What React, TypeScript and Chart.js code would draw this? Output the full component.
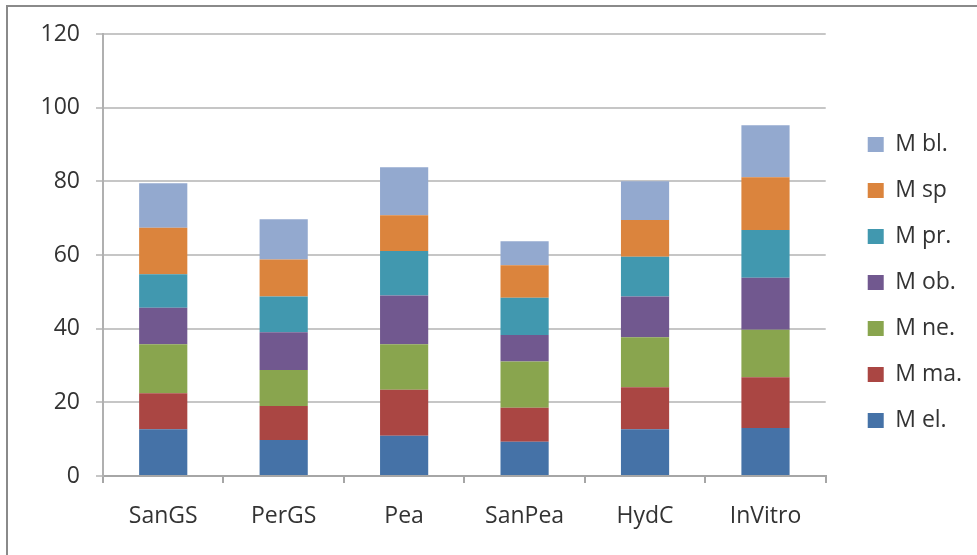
import React, { useEffect, useRef } from "react";
import { Chart, registerables } from "chart.js";

Chart.register(...registerables);

const categories = ["SanGS", "PerGS", "Pea", "SanPea", "HydC", "InVitro"];
const mEl = [12.7, 9.8, 10.9, 9.3, 12.7, 13.0];
const mMa = [9.8, 9.2, 12.5, 9.2, 11.4, 13.8];
const mNe = [13.3, 9.8, 12.4, 12.6, 13.6, 12.9];
const mOb = [9.9, 10.2, 13.2, 7.2, 11.0, 14.1];
const mPr = [9.1, 9.7, 12.1, 10.1, 10.8, 13.0];
const mSp = [12.6, 10.1, 9.7, 8.8, 10.0, 14.3];
const mBl = [12.1, 10.9, 13.0, 6.5, 10.5, 14.1];

const seriesNames = ["M el.", "M ma.", "M ne.", "M ob.", "M pr.", "M sp", "M bl."];
const seriesValues = [mEl, mMa, mNe, mOb, mPr, mSp, mBl];
const seriesColors = ["#4572A7", "#AA4643", "#89A54E", "#71588F", "#4198AF", "#DB843D", "#93A9CF"];

const yMin = 0;
const yMax = 120;
const yStep = 20;

const FONT = "'Open Sans', sans-serif";
const FS = 23;
const TEXT = "#333333";

export default function App() {
  const ref = useRef<HTMLCanvasElement | null>(null);

  useEffect(() => {
    if (!ref.current) return;
    const chart = new Chart(ref.current, {
      type: "bar",
      data: {
        labels: categories,
        datasets: seriesNames.map((name, i) => ({
          label: name,
          data: seriesValues[i],
          backgroundColor: seriesColors[i],
          borderWidth: 0,
          categoryPercentage: 1,
          barPercentage: 0.4,
        })),
      },
      options: {
        responsive: false,
        animation: false,
        devicePixelRatio: 1,
        layout: { padding: { left: 24, top: 34, bottom: 24, right: 5 } },
        plugins: {
          legend: {
            position: "right",
            reverse: true,
            labels: {
              boxWidth: 16,
              boxHeight: 15,
              padding: 23,
              color: TEXT,
              font: { family: FONT, size: FS },
            },
          },
          tooltip: { enabled: false },
          title: { display: false },
        },
        scales: {
          x: {
            stacked: true,
            grid: {
              display: true,
              drawOnChartArea: false,
              offset: true,
              tickLength: 7,
              color: "#a6a6a6",
              lineWidth: 2,
            },
            border: { display: true, color: "#a6a6a6", width: 2 },
            ticks: {
              padding: 20,
              color: TEXT,
              font: { family: FONT, size: FS },
            },
            afterFit: (s: any) => {
              s.height = 55;
            },
          },
          y: {
            stacked: true,
            min: yMin,
            max: yMax,
            grid: {
              color: "#c6c6c6",
              lineWidth: 2,
              tickLength: 7,
            },
            border: { display: true, color: "#b0b0b0", width: 2 },
            ticks: {
              stepSize: yStep,
              padding: 16,
              color: TEXT,
              font: { family: FONT, size: FS },
            },
            afterFit: (s: any) => {
              s.width = 79;
            },
          },
          y2: {
            type: "linear",
            position: "right",
            display: true,
            grid: { display: false },
            border: { display: false },
            ticks: { display: false },
            afterFit: (s: any) => {
              s.width = 19;
            },
          },
        },
      },
    });
    return () => chart.destroy();
  }, []);

  return (
    <div style={{ position: "fixed", left: 0, top: 0, width: 977, height: 555, background: "#fff" }}>
      <div
        style={{
          position: "absolute",
          left: 6,
          top: 5,
          right: 0,
          bottom: 0,
          borderLeft: "2px solid #8a8a8a",
          borderTop: "2px solid #8a8a8a",
        }}
      />
      <canvas ref={ref} width={977} height={555} style={{ position: "absolute", left: 0, top: 0 }} />
    </div>
  );
}
